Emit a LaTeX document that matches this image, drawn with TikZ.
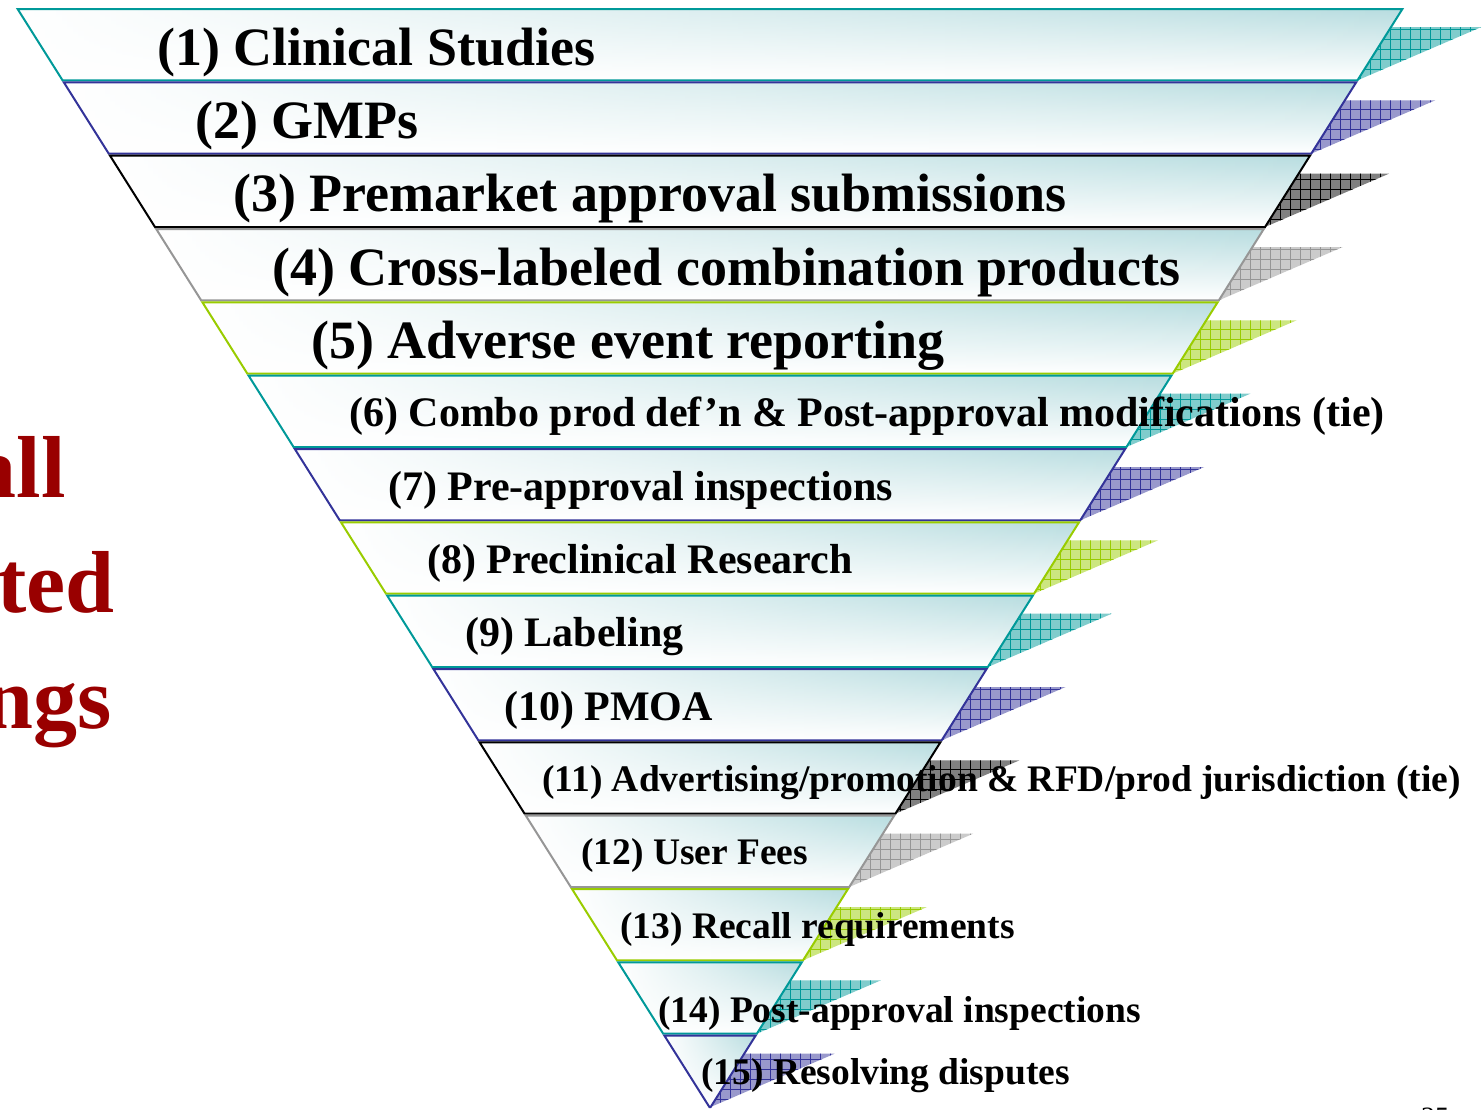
\documentclass[tikz,border=0pt]{standalone}
\usepackage{fontspec}
\setmainfont{Liberation Serif}
\usetikzlibrary{patterns.meta,fadings}

\definecolor{fteal}{RGB}{0,153,153}
\definecolor{fblue}{RGB}{51,51,153}
\definecolor{fblack}{RGB}{0,0,0}
\definecolor{fgray}{RGB}{150,150,150}
\definecolor{fgreen}{RGB}{153,204,0}
\definecolor{bandtint}{RGB}{184,221,224}
\definecolor{titlered}{RGB}{153,0,0}

\tikzset{
  band/.style={draw=#1, line width=2pt,
    preaction={top color=bandtint, bottom color=white},
    preaction={fill=white, path fading=east}},
  fin/.style={preaction={fill=#1!50}, pattern={Hatch[distance=10pt, line width=0.7pt]}, pattern color=#1},
  tierA/.style={anchor=base west, inner sep=0pt, font=\fontsize{54}{60}\selectfont\bfseries},
  tierB/.style={anchor=base west, inner sep=0pt, font=\fontsize{42}{48}\selectfont\bfseries},
  tierC/.style={anchor=base west, inner sep=0pt, font=\fontsize{37.5}{42}\selectfont\bfseries},
  side/.style={anchor=base east, inner sep=0pt, text=titlered, font=\fontsize{88}{96}\selectfont\bfseries}
}

\begin{document}
\begin{tikzpicture}[x=1pt, y=-1pt]
\useasboundingbox (0,0) rectangle (1482,1109);

% bands of the funnel, each with its hatched fin
\foreach \i/\c in {1/fteal,2/fblue,3/fblack,4/fgray,5/fgreen,6/fteal,7/fblue,8/fgreen,
                   9/fteal,10/fblue,11/fblack,12/fgray,13/fgreen,14/fteal,15/fblue}{
  \pgfmathsetmacro\yt{9+73.333*(\i-1)}
  \pgfmathsetmacro\yb{min(7+73.333*\i,1108)}
  \pgfmathsetmacro\wt{0.63*(1108-\yt)}
  \pgfmathsetmacro\wb{0.63*(1108-\yb)}
  \pgfmathsetmacro\yf{\yt+18}
  \pgfmathsetmacro\wf{0.63*(1108-\yf)}
  \fill[fin=\c] (710+\wb,\yb) -- (700+\wf,\yf) -- (834+\wb,\yf) -- cycle;
  \path[band=\c] (710-\wt,\yt) -- (710+\wt,\yt) -- (710+\wb,\yb) -- (710-\wb,\yb) -- cycle;
}

\node[tierA] (l1) at (157,65) {(1) Clinical Studies};
\node[tierA] (l2) at (195,138) {(2) GMPs};
\node[tierA] (l3) at (233,211) {(3) Premarket approval submissions};
\node[tierA] (l4) at (272,285) {(4) Cross-labeled combination products};
\node[tierA] (l5) at (311,358) {(5) Adverse event reporting};
\node[tierB] (l6) at (349,426) {(6) Combo prod def’n \& Post-approval modifications (tie)};
\node[tierB] (l7) at (388,500) {(7) Pre-approval inspections};
\node[tierB] (l8) at (427,573) {(8) Preclinical Research};
\node[tierB] (l9) at (465,646) {(9) Labeling};
\node[tierB] (l10) at (504,720) {(10) PMOA};
\node[tierC] (l11) at (542,791) {(11) Advertising/promotion \& RFD/prod jurisdiction (tie)};
\node[tierC] (l12) at (581,864) {(12) User Fees};
\node[tierC] (l13) at (620,938) {(13) Recall requirements};
\node[tierC] (l14) at (658,1022) {(14) Post-approval inspections};
\node[tierC] (l15) at (701,1084) {(15) Resolving disputes};

% title cut by the page edge
\node[side] (s1) at (66,497) {all};
\node[side] (s2) at (115,612) {ted};
\node[side] (s3) at (112,728) {ngs};

\node[anchor=base west, inner sep=0pt, font=\fontsize{28}{30}\selectfont] (pg) at (1421,1126) {25};
\end{tikzpicture}
\end{document}
